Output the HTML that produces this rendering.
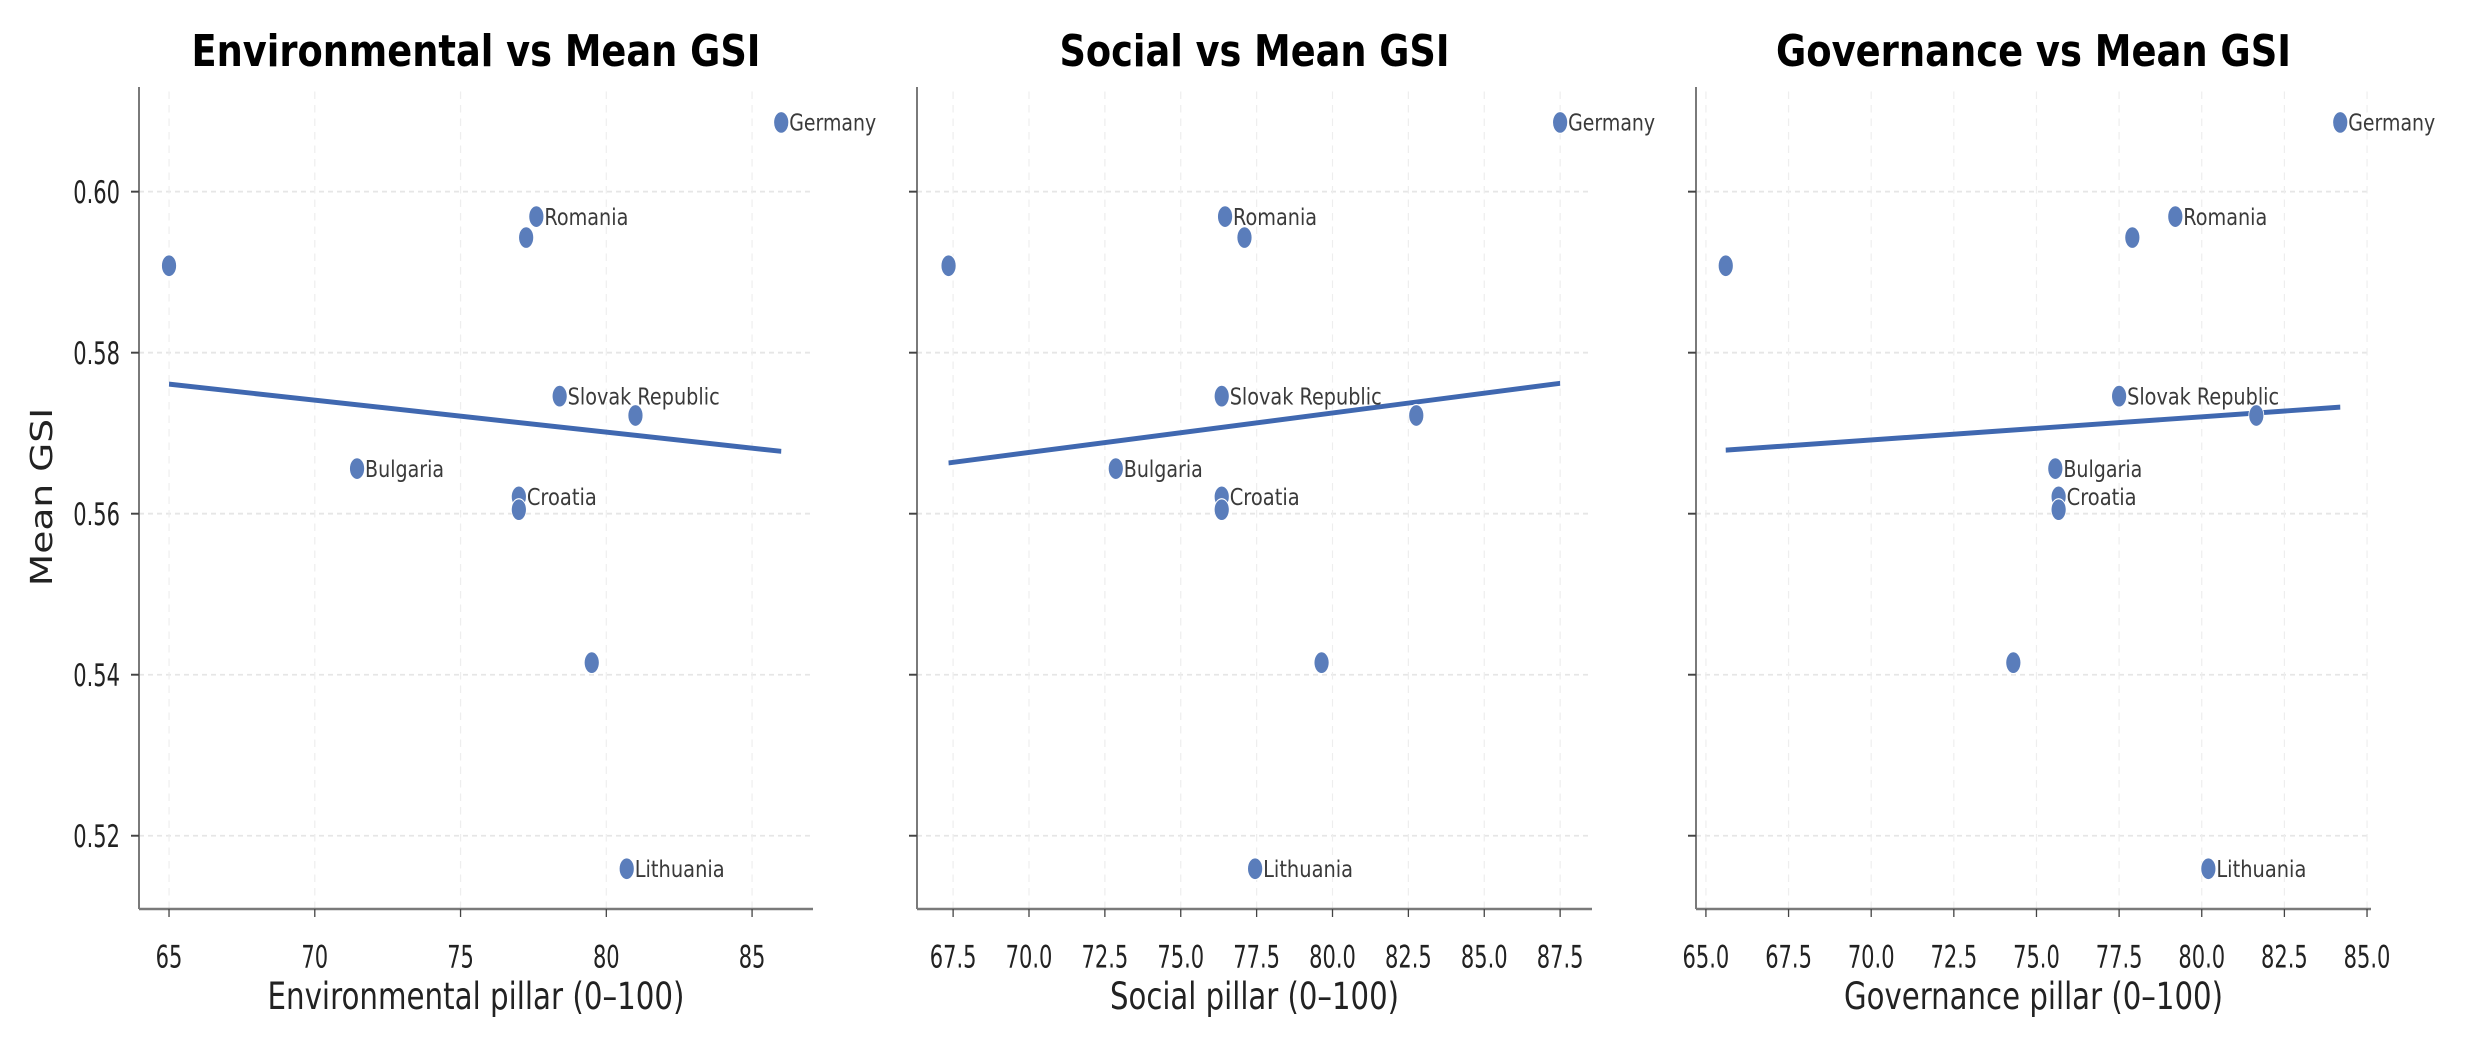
<!DOCTYPE html>
<html><head><meta charset="utf-8"><style>
html,body{margin:0;padding:0;background:#fff;}
svg{display:block;}
text{font-family:"DejaVu Sans","Liberation Sans",sans-serif;}
</style></head><body>
<svg id="chart" width="2467" height="1042" viewBox="0 0 2467 694.667" preserveAspectRatio="none" xmlns="http://www.w3.org/2000/svg"></svg>
<script>
const countries = ["Germany","Romania","","","Slovak Republic","","Bulgaria","Croatia","","","Lithuania"];
const gsi = [0.6086,0.5969,0.5943,0.5908,0.5746,0.5722,0.5656,0.5621,0.5605,0.5415,0.5159];
const envScores = [86.0,77.6,77.25,65.0,78.4,81.0,71.45,77.0,77.0,79.5,80.7];
const socScores = [87.5,76.46,77.1,67.35,76.35,82.76,72.86,76.35,76.35,79.64,77.45];
const govScores = [84.19,79.2,77.9,65.6,77.5,81.65,75.57,75.67,75.67,74.3,80.2];
const yTicks = [0.52,0.54,0.56,0.58,0.60];
const envTicks = [65,70,75,80,85];
const socTicks = [67.5,70,72.5,75,77.5,80,82.5,85,87.5];
const govTicks = [65,67.5,70,72.5,75,77.5,80,82.5,85];

const S = 1.5;
const NS = "http://www.w3.org/2000/svg";
const svg = document.getElementById('chart');
function el(tag, attrs, parent){const e=document.createElementNS(NS,tag);for(const k in attrs)e.setAttribute(k,attrs[k]);(parent||svg).appendChild(e);return e;}
const yDom=[0.5109,0.6130], yPix=[909/S,87/S];
function ys(v){return yPix[0]+(v-yDom[0])/(yDom[1]-yDom[0])*(yPix[1]-yPix[0]);}
const labelW={"Germany":87,"Romania":84,"Slovak Republic":152,"Bulgaria":79,"Croatia":70,"Lithuania":90};

const panels=[
 {key:"environmental",title:"Environmental vs Mean GSI",tw:569,xl:"Environmental pillar (0–100)",xlw:417,x0:139,x1:813,d0:63.97,d1:87.09,xs:envScores,ticks:envTicks,dec:0},
 {key:"social",title:"Social vs Mean GSI",tw:390,xl:"Social pillar (0–100)",xlw:289,x0:917,x1:1592,d0:66.31,d1:88.55,xs:socScores,ticks:socTicks,dec:1},
 {key:"governance",title:"Governance vs Mean GSI",tw:515,xl:"Governance pillar (0–100)",xlw:379,x0:1696,x1:2371,d0:64.70,d1:85.12,xs:govScores,ticks:govTicks,dec:1}
];

panels.forEach((p,pi)=>{
 const g=el('g',{});
 
 
 const xs=v=>p.x0+(v-p.d0)/(p.d1-p.d0)*(p.x1-p.x0);
 const cx=(p.x0+p.x1)/2;
 yTicks.forEach(t=>{const l=el('line',{x1:p.x0,x2:p.x1,y1:ys(t),y2:ys(t),stroke:'#e6e6e6','stroke-width':1.2,'stroke-dasharray':'5,4'},g);
  });
 p.ticks.forEach(t=>{const l=el('line',{x1:xs(t),x2:xs(t),y1:yPix[0],y2:yPix[1],stroke:'#eeeeee','stroke-width':1.2,'stroke-dasharray':'5,4'},g);
  });
 const sl=el('line',{x1:p.x0,x2:p.x0,y1:yPix[1],y2:yPix[0],stroke:'#7a7a7a','stroke-width':2},g);
 
 const sb=el('line',{x1:p.x0,x2:p.x1,y1:yPix[0],y2:yPix[0],stroke:'#7a7a7a','stroke-width':2/S*1.3},g);
 
 yTicks.forEach(t=>{const tk=el('line',{x1:p.x0-8,x2:p.x0,y1:ys(t),y2:ys(t),stroke:'#444','stroke-width':1.3},g);
  
  if(pi===0){const tx=el('text',{x:p.x0-19,y:ys(t)+7.5,'text-anchor':'end','font-size':21,fill:'#222'},g);tx.textContent=t.toFixed(2);
   }
 });
 p.ticks.forEach(t=>{const tk=el('line',{x1:xs(t),x2:xs(t),y1:yPix[0],y2:yPix[0]+8/S,stroke:'#444','stroke-width':1.3},g);
  
  const tx=el('text',{x:xs(t),y:645,'text-anchor':'middle','font-size':21,fill:'#222'},g);tx.textContent=t.toFixed(p.dec);
  });
 const ti=el('text',{x:cx,y:44,'text-anchor':'middle','font-size':29,'font-weight':'bold',fill:'#000',textLength:p.tw,lengthAdjust:'spacingAndGlyphs'},g);
 ti.textContent=p.title;
 const xl=el('text',{x:cx,y:672.7,'text-anchor':'middle','font-size':25,fill:'#222',textLength:p.xlw,lengthAdjust:'spacingAndGlyphs'},g);
 xl.textContent=p.xl;
 const n=gsi.length;let mx=0,my=0;for(let i=0;i<n;i++){mx+=p.xs[i];my+=gsi[i];}mx/=n;my/=n;
 let sxy=0,sxx=0;for(let i=0;i<n;i++){sxy+=(p.xs[i]-mx)*(gsi[i]-my);sxx+=(p.xs[i]-mx)**2;}
 const b=sxy/sxx,a=my-b*mx;const xmin=Math.min(...p.xs),xmax=Math.max(...p.xs);
 const rl=el('line',{x1:xs(xmin),x2:xs(xmax),y1:ys(a+b*xmin),y2:ys(a+b*xmax),stroke:'#4068b0','stroke-width':3.3},g);
 
 for(let i=0;i<n;i++){
  const c=el('ellipse',{cx:xs(p.xs[i]),cy:ys(gsi[i]),rx:7.5,ry:7.3,fill:'#5a7dbb',stroke:'#fff','stroke-width':0.8},g);
  
  if(countries[i]){const lb=el('text',{x:xs(p.xs[i])+8,y:ys(gsi[i])+5.5,'font-size':15.5,fill:'#3a3a3a',textLength:labelW[countries[i]],lengthAdjust:'spacingAndGlyphs'},g);
   lb.textContent=countries[i];}
 }
});
const yl=el('text',{x:0,y:0,'text-anchor':'middle','font-size':30,fill:'#222',textLength:119,lengthAdjust:'spacingAndGlyphs',transform:'translate(52,'+(497/S)+') rotate(-90)'});
yl.textContent='Mean GSI';


</script>
</body></html>
